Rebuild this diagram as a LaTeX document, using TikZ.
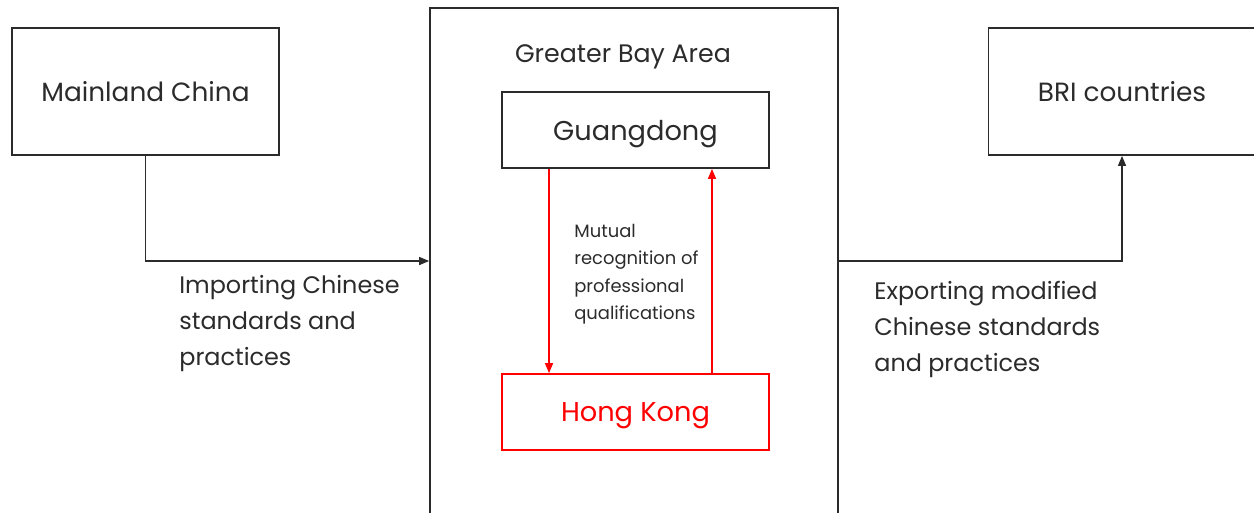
\documentclass[tikz,border=0pt]{standalone}
\usepackage{fontspec}
\setmainfont{Poppins}
\usetikzlibrary{arrows.meta}

\definecolor{darkline}{HTML}{2B2B2B}
\definecolor{hkred}{HTML}{FF0000}

\tikzset{
  outer-box/.style={draw=darkline, line width=1pt, text=darkline,
    minimum width=5.34cm, minimum height=2.54cm, inner sep=0pt, text depth=0pt,
    font=\fontsize{15}{18}\selectfont},
  inner-box/.style={draw=darkline, line width=1pt, text=darkline,
    minimum width=5.34cm, minimum height=1.52cm, inner sep=0pt, text depth=0pt,
    font=\fontsize{15.5}{19}\selectfont},
  flow-label/.style={anchor=north west, align=left, inner sep=0pt, text=darkline,
    font=\fontsize{13.6}{20.5}\selectfont},
}

\begin{document}
\begin{tikzpicture}[x=0.02cm,y=-0.02cm,>={Triangle[length=2mm,width=1.6mm]}]

\clip (0,0) rectangle (1254,512);

\coordinate (mainland-china) at (145.5,91.5);
\coordinate (greater-bay-area) at (634,261);
\coordinate (greater-bay-area-title) at (623,57);
\coordinate (guangdong) at (635.5,130);
\coordinate (hong-kong) at (635.5,412);
\coordinate (bri-countries) at (1122,91.5);

\coordinate (importing-text) at (179,275);
\coordinate (exporting-text) at (874,281);
\coordinate (mutual-text) at (574,224);

\node [outer-box] (mainland-china-box) at (mainland-china) {Mainland China};
\node [outer-box] (bri-countries-box) at (bri-countries) {BRI countries};
\node [draw=darkline, line width=1pt, minimum width=8.16cm, minimum height=10.12cm]
  (greater-bay-area-box) at (greater-bay-area) {};
\node [text=darkline, font=\fontsize{14.4}{17}\selectfont] (greater-bay-area-label)
  at (greater-bay-area-title) {Greater Bay Area};
\node [inner-box] (guangdong-box) at (guangdong) {Guangdong};
\node [inner-box, draw=hkred, text=hkred] (hong-kong-box) at (hong-kong) {Hong Kong};

\draw [->, darkline, line width=0.8pt] (mainland-china-box.south) |- (greater-bay-area-box.west);
\draw [->, darkline, line width=0.8pt] (greater-bay-area-box.east) -| (bri-countries-box.south);

\draw [->, hkred, line width=0.8pt] ([xshift=-1.73cm]guangdong-box.south) -- ([xshift=-1.73cm]hong-kong-box.north);
\draw [->, hkred, line width=0.8pt] ([xshift=1.53cm]hong-kong-box.north) -- ([xshift=1.53cm]guangdong-box.south);

\node [flow-label] (importing-label) at (importing-text) {Importing Chinese\\standards and\\practices};
\node [flow-label] (exporting-label) at (exporting-text) {Exporting modified\\Chinese standards\\and practices};
\node [flow-label, font=\fontsize{10.2}{15.5}\selectfont] (mutual-label) at (mutual-text)
  {Mutual\\recognition of\\professional\\qualifications};

\end{tikzpicture}
\end{document}
